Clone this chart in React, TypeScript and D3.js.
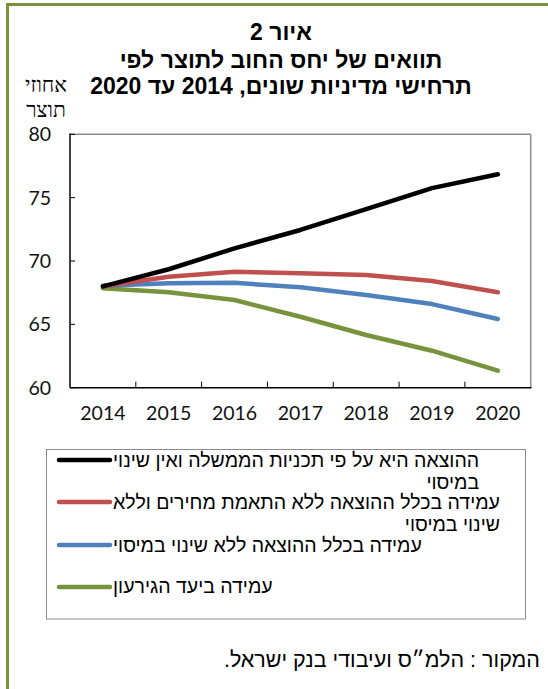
import React, { useEffect, useRef } from 'react';
import * as d3 from 'd3';

// ---- data ----
const years = ['2014', '2015', '2016', '2017', '2018', '2019', '2020'];
const govPlan = [68.0, 69.35, 71.0, 72.45, 74.1, 75.75, 76.85];
const noPriceAdj = [68.0, 68.75, 69.15, 69.03, 68.9, 68.42, 67.53];
const spendingRule = [68.05, 68.24, 68.28, 67.92, 67.32, 66.6, 65.42];
const deficitTarget = [67.85, 67.53, 66.92, 65.6, 64.16, 62.92, 61.34];
const yTicks = [60, 65, 70, 75, 80];
const seriesLabels: string[][] = [
  ['ההוצאה היא על פי תכניות הממשלה ואין שינוי', 'במיסוי'],
  ['עמידה בכלל ההוצאה ללא התאמת מחירים וללא', 'שינוי במיסוי'],
  ['עמידה בכלל ההוצאה ללא שינוי במיסוי'],
  ['עמידה ביעד הגירעון'],
];
const seriesColors = ['#000000', '#C0504D', '#4F81BD', '#77933C'];
const titleLines = ['איור 2', 'תוואים של יחס החוב לתוצר לפי', 'תרחישי מדיניות שונים, 2014 עד 2020'];
const yAxisTitle = ['אחוזי', 'תוצר'];
const sourceText = 'המקור : הלמ״ס ועיבודי בנק ישראל.';

const W = 548;
const H = 689;

export default function App() {
  const ref = useRef<SVGSVGElement | null>(null);

  useEffect(() => {
    const svg = d3.select(ref.current);
    svg.selectAll('*').remove();
    const series = [govPlan, noPriceAdj, spendingRule, deficitTarget];

    // frame
    svg.append('line').attr('x1', 7.5).attr('x2', 7.5).attr('y1', 3).attr('y2', H)
      .attr('stroke', '#77933C').attr('stroke-width', 3);
    svg.append('line').attr('x1', 6).attr('x2', W).attr('y1', 4.5).attr('y2', 4.5)
      .attr('stroke', '#77933C').attr('stroke-width', 3);

    const placeText = (
      txt: string, anchorX: number, y: number, align: 'left' | 'right' | 'center',
      font: string, size: number, weight = 'normal', color = '#000'
    ) => {
      const t = svg.append('text')
        .attr('y', y)
        .attr('text-anchor', 'middle')
        .attr('font-family', font)
        .attr('font-size', size)
        .attr('font-weight', weight)
        .attr('fill', color)
        .style('direction', 'rtl')
        .style('unicode-bidi', 'embed')
        .text(txt);
      const w = (t.node() as SVGTextElement).getComputedTextLength();
      let x = anchorX;
      if (align === 'left') x = anchorX + w / 2;
      if (align === 'right') x = anchorX - w / 2;
      t.attr('x', x);
      return w;
    };

    const sans = "'Liberation Sans', Arial, sans-serif";

    // title
    const titleBase = [40, 68, 94];
    titleLines.forEach((l, i) => placeText(l, 281, titleBase[i], 'center', sans, 23, 'bold'));

    // y axis title
    placeText(yAxisTitle[0], 46, 92, 'center', "'Liberation Serif', 'Times New Roman', serif", 21);
    placeText(yAxisTitle[1], 46, 117, 'center', "'Liberation Serif', 'Times New Roman', serif", 21);

    // plot
    const left = 70, right = 530.7, top = 134.3, bottom = 387.7;
    const x = d3.scaleBand<string>().domain(years).range([left, right]);
    const y = d3.scaleLinear().domain([60, 80]).range([bottom, top]);
    const bw = x.bandwidth();

    const g = svg.append('g');
    g.append('line').attr('x1', left).attr('x2', right).attr('y1', top).attr('y2', top)
      .attr('stroke', '#8c8c8c').attr('stroke-width', 1.5);
    g.append('line').attr('x1', right).attr('x2', right).attr('y1', top).attr('y2', bottom)
      .attr('stroke', '#8c8c8c').attr('stroke-width', 1.5);

    yTicks.forEach((v) => {
      g.append('line').attr('x1', left).attr('x2', left + 5).attr('y1', y(v)).attr('y2', y(v))
        .attr('stroke', '#000').attr('stroke-width', 1);
      g.append('text').attr('x', 51).attr('y', y(v)).attr('dy', '0.36em')
        .attr('text-anchor', 'end').attr('font-family', 'Lato, sans-serif').attr('font-size', 19.5)
        .attr('fill', '#111').text(String(v));
    });
    years.forEach((yr, i) => {
      if (i > 0) {
        const xb = x(yr)!;
        g.append('line').attr('x1', xb).attr('x2', xb).attr('y1', bottom).attr('y2', bottom - 6)
          .attr('stroke', '#000').attr('stroke-width', 1);
      }
      g.append('text').attr('x', x(yr)! + bw / 2).attr('y', 420)
        .attr('text-anchor', 'middle').attr('font-family', 'Lato, sans-serif').attr('font-size', 19.5)
        .attr('fill', '#111').text(yr);
    });

    g.append('line').attr('x1', left).attr('x2', left).attr('y1', top - 0.75).attr('y2', bottom)
      .attr('stroke', '#000').attr('stroke-width', 1.5);
    g.append('line').attr('x1', left).attr('x2', right + 0.75).attr('y1', bottom).attr('y2', bottom)
      .attr('stroke', '#000').attr('stroke-width', 1.5);

    const line = d3.line<number>()
      .x((_, i) => x(years[i])! + bw / 2)
      .y((d) => y(d));
    [3, 2, 1, 0].forEach((si) => {
      g.append('path').attr('d', line(series[si]) || '')
        .attr('fill', 'none').attr('stroke', seriesColors[si]).attr('stroke-width', 4.5)
        .attr('stroke-linecap', 'round').attr('stroke-linejoin', 'round');
    });

    // legend
    svg.append('rect').attr('x', 46.5).attr('y', 449.5).attr('width', 479).attr('height', 169.5)
      .attr('fill', 'none').attr('stroke', '#8c8c8c').attr('stroke-width', 1);
    const sampleY = [460, 502, 545, 587];
    const textBase = [[467, 489], [509, 531], [552], [593]];
    seriesLabels.forEach((lines, i) => {
      svg.append('line').attr('x1', 59).attr('x2', 110).attr('y1', sampleY[i]).attr('y2', sampleY[i])
        .attr('stroke', seriesColors[i]).attr('stroke-width', 4.5).attr('stroke-linecap', 'round');
      const w1 = placeText(lines[0], 113, textBase[i][0], 'left', sans, 19.5);
      if (lines[1]) {
        placeText(lines[1], 113 + w1, textBase[i][1], 'right', sans, 19.5);
      }
    });

    // source
    placeText(sourceText, 540, 667, 'right', sans, 21.5);
  }, []);

  return (
    <svg ref={ref} width={W} height={H} viewBox={`0 0 ${W} ${H}`}
      style={{ position: 'absolute', left: 0, top: 0, background: '#fff' }} />
  );
}
